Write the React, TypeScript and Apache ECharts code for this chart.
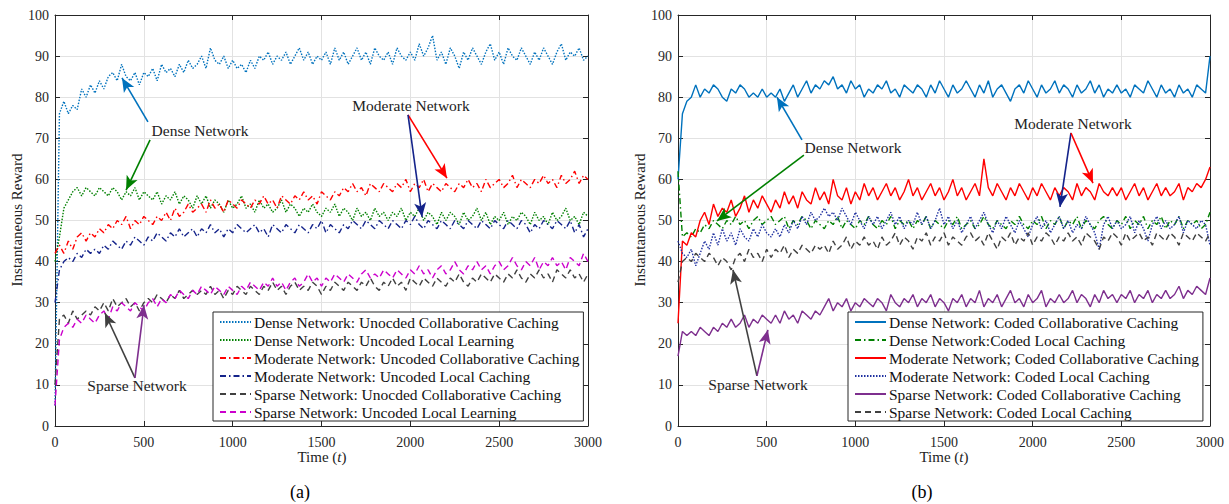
import React, { useEffect, useRef } from "react";
import * as echarts from "echarts";

const FONT = "'Liberation Serif', 'DejaVu Serif', serif";
const TIME_STEP = 25; // sampling step of the hand-read values (t = 0, 25, ..., 3000)
const X_TICKS = [0, 500, 1000, 1500, 2000, 2500, 3000];
const Y_TICKS = [0, 10, 20, 30, 40, 50, 60, 70, 80, 90, 100];

// ---------- Panel (a): uncoded ----------
const NAMES_A = [
  "Dense Network: Unocded Collaborative Caching",
  "Dense Network: Uncoded Local Learning",
  "Moderate Network: Uncoded Collaborative Caching",
  "Moderate Network: Uncoded Local Caching",
  "Sparse Network: Unocded Collaborative Caching",
  "Sparse Network: Uncoded Local Learning",
];

const A_DENSE_COLLAB = [
  5, 76, 79, 76, 78, 77, 82, 80, 83, 81, 84,
  82, 85, 86, 84, 88, 85, 84, 86, 83, 86, 85,
  87, 84, 88, 86, 87, 85, 88, 86, 89, 87, 88,
  90, 87, 92, 89, 88, 90, 87, 89, 87, 88, 86,
  89, 87, 90, 89, 91, 88, 90, 89, 91, 88, 90,
  92, 89, 91, 88, 90, 89, 91, 88, 92, 89, 91,
  88, 90, 92, 89, 91, 88, 92, 90, 89, 91, 88,
  92, 90, 89, 91, 89, 93, 90, 92, 95, 89, 91,
  88, 92, 90, 87, 91, 89, 92, 90, 88, 91, 93,
  89, 91, 88, 92, 90, 89, 92, 90, 88, 91, 89,
  92, 90, 88, 91, 93, 89, 91, 90, 92, 89, 90,
];
const A_DENSE_LOCAL = [
  40, 46, 53, 55, 57, 58, 56, 58, 57, 56, 58,
  57, 56, 58, 57, 55, 57, 56, 58, 55, 57, 56,
  55, 57, 54, 56, 55, 57, 54, 56, 55, 53, 56,
  54, 56, 53, 55, 54, 52, 55, 53, 54, 56, 53,
  54, 52, 55, 53, 54, 52, 53, 55, 52, 54, 53,
  51, 53, 52, 54, 52, 51, 53, 52, 54, 51, 53,
  52, 50, 53, 51, 52, 50, 53, 51, 52, 50, 52,
  51, 53, 50, 52, 51, 53, 50, 52, 51, 49, 52,
  50, 52, 51, 49, 52, 50, 51, 53, 50, 52, 49,
  51, 50, 52, 49, 51, 50, 52, 51, 49, 52, 50,
  51, 49, 52, 50, 51, 53, 50, 51, 49, 52, 51,
];
const A_MOD_COLLAB = [
  42, 44, 42, 45, 43, 46, 47, 45, 47, 46, 48,
  47, 49, 48, 50, 49, 51, 48, 50, 49, 51, 50,
  49, 51, 50, 52, 50, 53, 51, 52, 54, 52, 53,
  54, 52, 55, 53, 54, 52, 55, 54, 53, 55, 54,
  53, 55, 54, 56, 54, 55, 53, 56, 55, 54, 56,
  55, 57, 55, 56, 54, 57, 56, 55, 57, 56, 58,
  57, 59, 57, 58, 56, 59, 58, 57, 59, 58, 57,
  59, 58, 60, 57, 59, 58, 60, 57, 59, 58, 57,
  59, 58, 57, 59, 58, 60, 58, 59, 57, 60, 58,
  59, 60, 58, 59, 61, 58, 60, 59, 58, 60, 59,
  61, 59, 60, 58, 61, 59, 60, 62, 59, 61, 60,
];
const A_MOD_LOCAL = [
  30, 38, 40, 41, 40, 42, 41, 43, 42, 43, 42,
  44, 43, 45, 44, 43, 45, 44, 46, 45, 44, 46,
  45, 47, 46, 45, 47, 46, 48, 46, 47, 48, 46,
  48, 47, 49, 47, 48, 46, 48, 47, 49, 48, 47,
  48, 49, 47, 48, 46, 49, 48, 47, 49, 48, 47,
  49, 48, 47, 49, 48, 50, 47, 49, 48, 47, 49,
  48, 50, 49, 48, 50, 49, 48, 50, 49, 48, 50,
  49, 48, 50, 49, 51, 49, 48, 50, 49, 48, 50,
  49, 48, 50, 49, 48, 50, 49, 48, 50, 49, 48,
  50, 49, 48, 50, 49, 48, 50, 49, 47, 49, 48,
  50, 49, 48, 50, 49, 48, 50, 47, 49, 46, 48,
];
const A_SPARSE_COLLAB = [
  10, 26, 27, 25, 28, 26, 27, 28, 27, 29, 28,
  30, 28, 31, 29, 30, 31, 29, 30, 28, 30, 31,
  30, 32, 31, 30, 32, 31, 33, 31, 32, 33, 32,
  33, 32, 34, 32, 33, 31, 33, 32, 34, 33, 32,
  34, 33, 32, 34, 33, 35, 33, 34, 32, 34, 35,
  33, 34, 33, 35, 34, 32, 34, 33, 35, 34, 33,
  35, 34, 33, 35, 34, 36, 34, 33, 35, 34, 36,
  34, 35, 33, 36, 35, 34, 36, 35, 34, 36, 35,
  34, 36, 35, 37, 35, 34, 36, 35, 37, 36, 35,
  37, 36, 35, 37, 36, 38, 36, 35, 37, 36, 38,
  36, 37, 35, 38, 37, 36, 38, 36, 37, 35, 37,
];
const A_SPARSE_LOCAL = [
  5, 21, 24, 25, 24, 26, 25, 27, 26, 25, 27,
  28, 26, 29, 28, 30, 29, 28, 30, 29, 28, 30,
  31, 29, 31, 30, 32, 31, 33, 32, 31, 33, 32,
  34, 33, 32, 34, 33, 32, 34, 33, 32, 34, 33,
  35, 34, 33, 35, 34, 36, 34, 35, 33, 35, 36,
  34, 35, 37, 35, 36, 34, 36, 35, 37, 36, 35,
  37, 36, 35, 37, 38, 36, 37, 36, 38, 37, 36,
  38, 37, 36, 38, 37, 39, 37, 38, 36, 38, 39,
  37, 38, 40, 38, 37, 39, 38, 40, 38, 39, 37,
  39, 40, 38, 39, 41, 39, 38, 40, 39, 41, 38,
  40, 39, 41, 39, 40, 38, 41, 40, 39, 42, 40,
];

// ---------- Panel (b): coded ----------
const NAMES_B = [
  "Dense Network: Coded Collaborative Caching",
  "Dense Network:Coded Local Caching",
  "Moderate Network; Coded Collaborative Caching",
  "Moderate Network: Coded Local Caching",
  "Sparse Network: Coded Collaborative Caching",
  "Sparse Network: Coded Local Caching",
];

const B_DENSE_COLLAB = [
  60, 76, 79, 80, 83, 80, 82, 81, 83, 82, 80,
  79, 82, 81, 83, 82, 80, 81, 80, 82, 80, 81,
  80, 82, 79, 81, 83, 80, 82, 84, 81, 83, 82,
  84, 83, 85, 82, 83, 81, 84, 82, 83, 80, 82,
  81, 83, 82, 84, 81, 82, 80, 83, 82, 81, 83,
  82, 80, 83, 81, 84, 82, 80, 83, 81, 82, 84,
  82, 80, 83, 81, 84, 80, 82, 83, 81, 79, 82,
  83, 81, 84, 82, 80, 83, 81, 82, 84, 81, 83,
  82, 80, 83, 81, 82, 84, 81, 83, 80, 82, 81,
  83, 81, 82, 80, 83, 82, 81, 84, 82, 80, 83,
  81, 82, 80, 83, 81, 82, 80, 83, 82, 81, 90,
];
const B_DENSE_LOCAL = [
  62, 46, 47, 46, 48, 47, 49, 48, 50, 49, 48,
  50, 49, 51, 49, 50, 48, 50, 51, 49, 50, 51,
  49, 50, 51, 48, 50, 49, 51, 50, 48, 50, 49,
  48, 50, 49, 51, 48, 50, 49, 48, 50, 49, 51,
  49, 48, 50, 49, 51, 48, 50, 49, 50, 48, 50,
  49, 51, 48, 50, 49, 48, 50, 49, 51, 48, 49,
  50, 48, 49, 51, 49, 48, 50, 49, 48, 50, 49,
  51, 49, 48, 50, 49, 51, 48, 50, 49, 51, 48,
  50, 49, 51, 48, 50, 49, 48, 50, 51, 49, 48,
  50, 49, 51, 48, 50, 49, 51, 48, 50, 49, 51,
  48, 50, 49, 51, 48, 50, 49, 50, 48, 49, 52,
];
const B_MOD_COLLAB = [
  25, 45, 44, 47, 46, 50, 52, 49, 54, 51, 53,
  52, 55, 51, 53, 56, 52, 55, 53, 56, 54, 52,
  55, 53, 57, 54, 56, 53, 57, 55, 54, 58, 55,
  57, 54, 60, 56, 55, 58, 54, 57, 55, 59, 56,
  58, 55, 57, 59, 56, 58, 55, 57, 60, 56, 58,
  55, 57, 59, 56, 58, 55, 57, 60, 56, 58, 55,
  57, 59, 56, 65, 58, 56, 59, 57, 55, 58, 56,
  59, 57, 55, 58, 56, 59, 57, 55, 58, 56, 58,
  57, 55, 59, 56, 58, 57, 55, 59, 57, 56, 58,
  56, 58, 55, 57, 59, 56, 58, 55, 57, 59, 56,
  58, 56, 57, 59, 55, 58, 57, 59, 58, 60, 63,
];
const B_MOD_LOCAL = [
  45, 42, 41, 43, 39, 42, 45, 43, 47, 44, 48,
  45, 47, 44, 48, 46, 45, 48, 46, 49, 47, 46,
  48, 46, 49, 47, 50, 48, 51, 49, 52, 50, 51,
  53, 51, 52, 50, 53, 51, 49, 52, 50, 48, 51,
  49, 51, 48, 50, 52, 49, 51, 48, 50, 49, 52,
  49, 51, 48, 50, 53, 49, 51, 48, 50, 47, 49,
  51, 48, 50, 52, 49, 47, 50, 48, 51, 49, 47,
  50, 48, 46, 49, 51, 48, 50, 47, 49, 51, 48,
  50, 47, 49, 48, 51, 49, 47, 43, 49, 51, 48,
  50, 48, 49, 51, 47, 50, 48, 45, 49, 51, 48,
  50, 48, 49, 51, 47, 50, 49, 48, 50, 49, 44,
];
const B_SPARSE_COLLAB = [
  17, 23, 22, 23, 22, 24, 23, 22, 24, 23, 25,
  24, 26, 24, 25, 27, 24, 26, 25, 27, 26, 25,
  27, 25, 28, 26, 27, 25, 28, 27, 26, 28, 27,
  29, 31, 28, 30, 29, 31, 28, 30, 29, 31, 30,
  29, 31, 30, 28, 32, 30, 29, 31, 30, 32, 29,
  31, 30, 32, 29, 31, 30, 28, 31, 30, 32, 29,
  31, 30, 33, 29, 31, 30, 32, 29, 31, 33, 30,
  31, 29, 32, 30, 31, 33, 29, 31, 30, 32, 30,
  31, 33, 30, 32, 31, 29, 32, 30, 33, 31, 32,
  30, 32, 31, 33, 30, 32, 31, 33, 30, 32, 31,
  33, 31, 32, 34, 31, 33, 32, 34, 33, 32, 36,
];
const B_SPARSE_LOCAL = [
  35, 40, 41, 40, 42, 41, 40, 42, 41, 39, 41,
  40, 38, 41, 42, 40, 43, 41, 42, 40, 43, 41,
  43, 42, 44, 41, 43, 42, 44, 43, 42, 44, 43,
  44, 42, 45, 43, 44, 46, 43, 45, 44, 46, 44,
  45, 43, 46, 44, 45, 47, 44, 46, 45, 43, 46,
  45, 47, 44, 46, 45, 47, 44, 46, 45, 44, 46,
  47, 45, 46, 44, 47, 45, 43, 46, 45, 47, 44,
  46, 45, 47, 44, 46, 45, 47, 46, 44, 46, 45,
  47, 45, 46, 44, 47, 46, 45, 43, 46, 45, 47,
  46, 44, 47, 45, 46, 47, 45, 46, 44, 47, 46,
  45, 47, 46, 44, 47, 46, 45, 47, 46, 45, 47,
];

const BLUE = "#0072BD";
const GREEN = "#008000";
const RED = "#FF0000";
const NAVY = "#14238A";
const GRAY = "#404040";
const MAGENTA = "#CC00CC";
const PURPLE = "#7E2F8E";
const DBLUE = "#1F30A0";

const DOT: number[] = [1.5, 1.5];
const DASHDOT: number[] = [6, 3, 1.5, 3];
const DASH: number[] = [6, 4];

const toPts = (vals: number[]) => vals.map((v, i) => [i * TIME_STEP, v]);

export default function App() {
  const ref = useRef<HTMLDivElement>(null);
  useEffect(() => {
    if (!ref.current) return;
    const chart = echarts.init(ref.current, undefined, { renderer: "svg" });

    const grids = [
      { left: 55, top: 15, width: 533, height: 411, show: false },
      { left: 678, top: 15, width: 532, height: 411, show: false },
    ];
    const axisCol = "#262626";
    const mkX = (gi: number, pos: string, main: boolean) => ({
      type: "value",
      gridIndex: gi,
      position: pos,
      min: X_TICKS[0],
      max: X_TICKS[X_TICKS.length - 1],
      interval: 500,
      axisLine: { show: true, onZero: false, lineStyle: { color: axisCol, width: 1 } },
      axisTick: { show: true, inside: true, length: 5, lineStyle: { color: axisCol } },
      axisLabel: {
        show: main,
        color: axisCol,
        fontFamily: FONT,
        fontSize: 14,
        margin: 9,
        formatter: (v: number) => String(v),
      },
      splitLine: { show: main, lineStyle: { color: "#e2e2e2", width: 1 } },
    });
    const mkY = (gi: number, pos: string, main: boolean) => ({
      type: "value",
      gridIndex: gi,
      position: pos,
      min: Y_TICKS[0],
      max: Y_TICKS[Y_TICKS.length - 1],
      interval: 10,
      axisLine: { show: true, onZero: false, lineStyle: { color: axisCol, width: 1 } },
      axisTick: { show: true, inside: true, length: 5, lineStyle: { color: axisCol } },
      axisLabel: {
        show: main,
        color: axisCol,
        fontFamily: FONT,
        fontSize: 14,
        margin: 6,
        formatter: (v: number) => String(v),
      },
      splitLine: { show: main, lineStyle: { color: "#e2e2e2", width: 1 } },
    });

    const line = (
      name: string,
      vals: number[],
      color: string,
      type: any,
      axis: number,
      extra: any = {}
    ) => ({
      type: "line",
      name,
      data: toPts(vals),
      xAxisIndex: axis,
      yAxisIndex: axis,
      showSymbol: false,
      symbol: "none",
      lineStyle: { color, width: 1.4, type },
      itemStyle: { color },
      z: 2,
      ...extra,
    });

    const arrow = (from: number[], to: number[], color: string) => [
      { coord: from, lineStyle: { color, width: 1.6, type: "solid" } },
      { coord: to },
    ];
    const ml = (items: any[]) => ({
      markLine: {
        silent: true,
        animation: false,
        symbol: ["none", "arrow"],
        symbolSize: [9, 14],
        label: { show: false },
        data: items,
      },
    });

    const series = [
      line(NAMES_A[0], A_DENSE_COLLAB, BLUE, DOT, 0,
        ml([
          arrow([523, 74], [377, 84.7], BLUE),
          arrow([535, 69.6], [400, 57.4], GREEN),
          arrow([1987, 75.7], [2206, 60.3], RED),
          arrow([1987, 75.7], [2066, 50.9], NAVY),
          arrow([450, 11.7], [281, 27.5], GRAY),
          arrow([450, 11.7], [501, 29.4], PURPLE),
        ])),
      line(NAMES_A[1], A_DENSE_LOCAL, GREEN, DOT, 0),
      line(NAMES_A[2], A_MOD_COLLAB, RED, DASHDOT, 0),
      line(NAMES_A[3], A_MOD_LOCAL, NAVY, DASHDOT, 0),
      line(NAMES_A[4], A_SPARSE_COLLAB, GRAY, DASH, 0),
      line(NAMES_A[5], A_SPARSE_LOCAL, MAGENTA, DASH, 0),
      line(NAMES_B[0], B_DENSE_COLLAB, BLUE, "solid", 2,
        ml([
          arrow([699, 69.6], [558, 80], BLUE),
          arrow([710, 65.9], [220, 49.9], GREEN),
          arrow([2216, 71.3], [2154, 53.3], NAVY),
          arrow([2216, 71.3], [2340, 59.1], RED),
          arrow([445, 12.2], [310, 38], GRAY),
          arrow([445, 12.2], [507, 23.4], PURPLE),
        ])),
      line(NAMES_B[1], B_DENSE_LOCAL, GREEN, DASHDOT, 2),
      line(NAMES_B[2], B_MOD_COLLAB, RED, "solid", 2),
      line(NAMES_B[3], B_MOD_LOCAL, DBLUE, DOT, 2),
      line(NAMES_B[4], B_SPARSE_COLLAB, PURPLE, "solid", 2),
      line(NAMES_B[5], B_SPARSE_LOCAL, GRAY, DASH, 2),
    ];

    const legendBase = {
      orient: "vertical",
      itemWidth: 31,
      itemHeight: 10,
      itemGap: 2,
      padding: [2, 4, 1, 6],
      borderColor: axisCol,
      borderWidth: 1,
      backgroundColor: "#ffffff",
      itemStyle: { color: "transparent", borderColor: "transparent", borderWidth: 0, opacity: 0 },
      textStyle: {
        fontFamily: FONT,
        fontSize: 15.5,
        lineHeight: 16,
        color: "#111",
        padding: [0, 0, 0, -2],
      },
      selectedMode: false,
      z: 5,
    };

    const txt = (x: number, y: number, text: string, extra: any = {}) => ({
      type: "text",
      x,
      y,
      z: 10,
      style: {
        text,
        fontFamily: FONT,
        fontSize: 15.5,
        fill: "#222",
        align: "center",
        verticalAlign: "middle",
        ...extra,
      },
    });
    const italic = { i: { fontStyle: "italic", fontFamily: FONT, fontSize: 15 } };

    chart.setOption({
      animation: false,
      backgroundColor: "#ffffff",
      grid: grids,
      xAxis: [mkX(0, "bottom", true), mkX(0, "top", false), mkX(1, "bottom", true), mkX(1, "top", false)],
      yAxis: [mkY(0, "left", true), mkY(0, "right", false), mkY(1, "left", true), mkY(1, "right", false)],
      legend: [
        { ...legendBase, left: 213, top: 312, data: NAMES_A },
        { ...legendBase, left: 848, top: 312, data: NAMES_B },
      ],
      series,
      graphic: [
        txt(200, 130, "Dense Network"),
        txt(411, 105, "Moderate Network"),
        txt(137, 385, "Sparse Network"),
        txt(853, 147, "Dense Network"),
        txt(1073, 123, "Moderate Network"),
        txt(758, 384, "Sparse Network"),
        txt(322, 457, "Time ({i|t})", { fontSize: 15, rich: italic }),
        txt(944, 457, "Time ({i|t})", { fontSize: 15, rich: italic }),
        { ...txt(17, 220, "Instantaneous Reward", { fontSize: 15 }), rotation: Math.PI / 2 },
        { ...txt(640, 220, "Instantaneous Reward", { fontSize: 15 }), rotation: Math.PI / 2 },
        txt(300, 492, "(a)", { fontSize: 18, fill: "#000" }),
        txt(922, 492, "(b)", { fontSize: 18, fill: "#000" }),
      ],
    });
    return () => chart.dispose();
  }, []);
  return (
    <div
      ref={ref}
      style={{ position: "fixed", left: 0, top: 0, width: 1229, height: 504, background: "#fff" }}
    />
  );
}
